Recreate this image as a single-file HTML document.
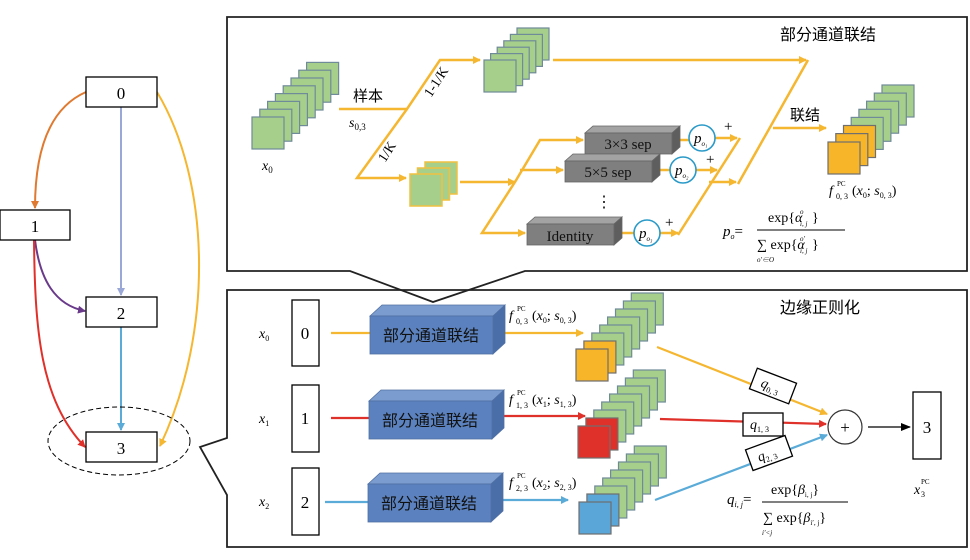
<!DOCTYPE html>
<html><head><meta charset="utf-8"><style>
html,body{margin:0;padding:0;background:#fff;}
svg{display:block;font-family:"Liberation Serif","Noto Serif CJK SC",serif;}
.cj{font-family:"Liberation Serif","Noto Sans CJK SC",sans-serif;}
</style></head><body>
<svg width="970" height="560" viewBox="0 0 970 560" xmlns="http://www.w3.org/2000/svg">
<defs>
<rect id="g" width="32" height="32" fill="#a6cf8c" stroke="#6f8a98" stroke-width="1.2"/>
<rect id="gy" width="32" height="32" fill="#a6cf8c" stroke="#f0c040" stroke-width="1.5"/>
<rect id="o" width="32" height="32" fill="#f7b52a" stroke="#6f6f6f" stroke-width="1.2"/>
<rect id="r" width="32" height="32" fill="#e0302a" stroke="#6f6f6f" stroke-width="1.2"/>
<rect id="b" width="32" height="32" fill="#5aa6d8" stroke="#6f6f6f" stroke-width="1.2"/>
<marker id="ay" markerWidth="8" markerHeight="8" refX="7" refY="4" orient="auto" markerUnits="userSpaceOnUse"><path d="M0,0 L8,4 L0,8z" fill="#f5b630"/></marker>
<marker id="ar" markerWidth="8" markerHeight="8" refX="7" refY="4" orient="auto" markerUnits="userSpaceOnUse"><path d="M0,0 L8,4 L0,8z" fill="#e0302a"/></marker>
<marker id="ab" markerWidth="8" markerHeight="8" refX="7" refY="4" orient="auto" markerUnits="userSpaceOnUse"><path d="M0,0 L8,4 L0,8z" fill="#5aabd8"/></marker>
<marker id="ak" markerWidth="10" markerHeight="8" refX="9" refY="4" orient="auto" markerUnits="userSpaceOnUse"><path d="M0,0 L10,4 L0,8z" fill="#000"/></marker>
<marker id="mo" markerWidth="8" markerHeight="8" refX="7" refY="4" orient="auto" markerUnits="userSpaceOnUse"><path d="M0,0 L8,4 L0,8z" fill="#e07a30"/></marker>
<marker id="ml" markerWidth="8" markerHeight="8" refX="7" refY="4" orient="auto" markerUnits="userSpaceOnUse"><path d="M0,0 L8,4 L0,8z" fill="#9aa8d8"/></marker>
<marker id="mp" markerWidth="8" markerHeight="8" refX="7" refY="4" orient="auto" markerUnits="userSpaceOnUse"><path d="M0,0 L8,4 L0,8z" fill="#6a3a8a"/></marker>
</defs>

<!-- LEFT GRAPH -->
<g fill="none" stroke-width="2">
<path d="M86,92 C45,110 35,160 35,208" stroke="#e07a30" marker-end="url(#mo)"/>
<path d="M121,107 L121,295" stroke="#9aa8d8" marker-end="url(#ml)"/>
<path d="M157,92 C210,180 215,330 160,446" stroke="#f5b630" marker-end="url(#ay)"/>
<path d="M35,240 C40,280 55,305 85,311" stroke="#6a3a8a" marker-end="url(#mp)"/>
<path d="M121,327 L121,430" stroke="#5aabd8" marker-end="url(#ab)"/>
<path d="M34,240 C35,330 40,400 85,447" stroke="#e0302a" marker-end="url(#ar)"/>
</g>
<g fill="#fff" stroke="#000" stroke-width="1.3">
<rect x="86" y="77" width="71" height="30"/>
<rect x="0" y="210" width="70" height="30"/>
<rect x="86" y="297" width="71" height="30"/>
<rect x="86" y="432" width="71" height="30"/>
</g>
<g font-size="17" text-anchor="middle">
<text x="121" y="99">0</text><text x="35" y="232">1</text><text x="121" y="319">2</text><text x="121" y="454">3</text>
</g>
<ellipse cx="119" cy="441" rx="71" ry="34" fill="none" stroke="#000" stroke-width="1" stroke-dasharray="5,3"/>

<!-- PANELS -->
<path d="M227,17 L967,17 L967,271 L525,271 L433,302 L350,271 L227,271 Z" fill="none" stroke="#222" stroke-width="1.8"/>
<path d="M227,290 L967,290 L967,547 L227,547 L227,495 L200,447 L227,438 Z" fill="none" stroke="#222" stroke-width="1.8"/>

<!-- TOP PANEL -->
<text x="780" y="40" font-size="16" class="cj">部分通道联结</text>
<g>
<use href="#g" x="306.6" y="62.4"/><use href="#g" x="298.8" y="70.2"/><use href="#g" x="291" y="78"/><use href="#g" x="283.2" y="85.8"/><use href="#g" x="275.4" y="93.6"/><use href="#g" x="267.6" y="101.4"/><use href="#g" x="259.8" y="109.2"/><use href="#g" x="252" y="117"/>
</g>
<text x="262" y="170" font-size="14" font-style="italic">x<tspan font-size="9" font-style="normal" dy="3">0</tspan></text>
<g fill="none" stroke="#f5b630" stroke-width="2.5">
<path d="M339,109 L407,109 L440,60 L480,60" marker-end="url(#ay)"/>
<path d="M407,109 L357,178 L406,178" marker-end="url(#ay)"/>
<path d="M460,182 L515,182" marker-end="url(#ay)"/>
<path d="M515,182 L540,140 L583,140" marker-end="url(#ay)"/>
<path d="M520,170 L563,170" marker-end="url(#ay)"/>
<path d="M515,182 L482,233 L525,233" marker-end="url(#ay)"/>
<path d="M678,140 L689,140"/><path d="M715,138 L737,138" marker-end="url(#ay)"/>
<path d="M658,170 L670,170"/><path d="M696,170 L717,170" marker-end="url(#ay)"/>
<path d="M620,233 L634,233"/><path d="M660,233 L678,233" marker-end="url(#ay)"/>
<path d="M678,235 L740,138"/>
<path d="M709,182 L736,182" marker-end="url(#ay)"/>
<path d="M738,184 L808,60"/>
<path d="M553,60 L806,60" marker-end="url(#ay)"/>
<path d="M773,128 L826,128" marker-end="url(#ay)"/>
</g>
<text x="353" y="101" font-size="15" class="cj">样本</text>
<text x="349" y="127" font-size="14" font-style="italic">s<tspan font-size="9" font-style="normal" dy="3">0,3</tspan></text>
<text x="0" y="0" font-size="14" transform="translate(431,98) rotate(-57)">1-1/K</text>
<text x="0" y="0" font-size="14" transform="translate(385,163) rotate(-57)">1/K</text>
<g>
<use href="#g" x="517" y="28"/><use href="#g" x="510.4" y="34.4"/><use href="#g" x="503.8" y="40.8"/><use href="#g" x="497.2" y="47.2"/><use href="#g" x="490.6" y="53.6"/><use href="#g" x="484" y="60"/>
</g>
<g><use href="#gy" x="425" y="162"/><use href="#gy" x="417.5" y="168"/><use href="#gy" x="410" y="174"/></g>
<g stroke="#666" stroke-width="0.8">
<path d="M585,133 L593,126 L680,126 L672,133Z" fill="#a3a3a3"/><path d="M672,133 L680,126 L680,147 L672,154Z" fill="#5e5e5e"/><rect x="585" y="133" width="87" height="21" fill="#7f7f7f"/>
<path d="M565,161 L573,154 L660,154 L652,161Z" fill="#a3a3a3"/><path d="M652,161 L660,154 L660,175 L652,182Z" fill="#5e5e5e"/><rect x="565" y="161" width="87" height="21" fill="#7f7f7f"/>
<path d="M527,224 L535,217 L622,217 L614,224Z" fill="#a3a3a3"/><path d="M614,224 L622,217 L622,238 L614,245Z" fill="#5e5e5e"/><rect x="527" y="224" width="87" height="21" fill="#7f7f7f"/>
</g>
<g font-size="15" text-anchor="middle" fill="#111">
<text x="628" y="149">3×3 sep</text><text x="608" y="177">5×5 sep</text><text x="570" y="241">Identity</text>
<text x="604" y="207" font-size="16">⋮</text>
</g>
<g fill="#fff" stroke="#2a9ac8" stroke-width="1.6">
<circle cx="702" cy="138" r="13"/><circle cx="683" cy="170" r="13"/><circle cx="647" cy="233" r="13"/>
</g>
<g font-size="15" font-style="italic">
<text x="694" y="143">p<tspan font-size="7" dy="3">o₁</tspan></text>
<text x="675" y="175">p<tspan font-size="7" dy="3">o₂</tspan></text>
<text x="639" y="238">p<tspan font-size="7" dy="3">o₃</tspan></text>
</g>
<g font-size="15"><text x="724" y="131">+</text><text x="706" y="164">+</text><text x="665" y="227">+</text></g>
<text x="790" y="120" font-size="15" class="cj">联结</text>
<g>
<use href="#g" x="882" y="85"/><use href="#g" x="874.3" y="93.1"/><use href="#g" x="866.6" y="101.2"/><use href="#g" x="858.9" y="109.3"/><use href="#g" x="851.2" y="117.4"/><use href="#o" x="843.5" y="125.5"/><use href="#o" x="835.8" y="133.6"/><use href="#o" x="828" y="142"/>
</g>
<!-- f label top -->
<g font-size="14">
<text x="829" y="195" font-style="italic">f</text><text x="836" y="199" font-size="8">0, 3</text><text x="837" y="186" font-size="7">PC</text>
<text x="852" y="195">(<tspan font-style="italic">x</tspan><tspan font-size="8" dy="3">0</tspan><tspan dy="-3">; </tspan><tspan font-style="italic">s</tspan><tspan font-size="8" dy="3">0, 3</tspan><tspan dy="-3">)</tspan></text>
</g>
<!-- p_o formula -->
<text x="723" y="236" font-size="15" font-style="italic">p<tspan font-size="8" dy="3">o</tspan><tspan font-style="normal" dy="-3">=</tspan></text>
<line x1="757" y1="230" x2="845" y2="230" stroke="#000" stroke-width="1"/>
<text x="768" y="222" font-size="14">exp{<tspan font-style="italic">α</tspan></text><text x="800" y="214" font-size="7" font-style="italic">o</text><text x="800" y="226" font-size="7" font-style="italic">i, j</text><text x="812" y="222" font-size="14">}</text>
<text x="757" y="249" font-size="14">∑ exp{<tspan font-style="italic">α</tspan></text><text x="800" y="241" font-size="7" font-style="italic">o′</text><text x="800" y="253" font-size="7" font-style="italic">i, j</text><text x="812" y="249" font-size="14">}</text>
<text x="757" y="262" font-size="7" font-style="italic">o′∈O</text>

<!-- BOTTOM PANEL -->
<text x="780" y="313" font-size="16" class="cj">边缘正则化</text>
<g font-size="14" font-style="italic">
<text x="259" y="338">x<tspan font-size="8" font-style="normal" dy="3">0</tspan></text>
<text x="259" y="423">x<tspan font-size="8" font-style="normal" dy="3">1</tspan></text>
<text x="259" y="506">x<tspan font-size="8" font-style="normal" dy="3">2</tspan></text>
</g>
<g fill="#fff" stroke="#000" stroke-width="1.3">
<rect x="292" y="300" width="27" height="66"/><rect x="292" y="385" width="27" height="67"/><rect x="292" y="468" width="27" height="67"/>
</g>
<g font-size="17" text-anchor="middle"><text x="305" y="339">0</text><text x="305" y="424">1</text><text x="305" y="508">2</text></g>
<g fill="none" stroke-width="2.2">
<path d="M331,333 L370,333" stroke="#f5b630"/><path d="M495,333 L583,333" stroke="#f5b630" marker-end="url(#ay)"/>
<path d="M331,418 L370,418" stroke="#e0302a"/><path d="M495,416 L585,416" stroke="#e0302a" marker-end="url(#ar)"/>
<path d="M325,502 L370,502" stroke="#5aabd8"/><path d="M494,500 L568,500" stroke="#5aabd8" marker-end="url(#ab)"/>
</g>
<g stroke="#5170a4" stroke-width="0.8">
<path d="M370,316 L382,305 L505,305 L493,316Z" fill="#7b9cce"/><path d="M493,316 L505,305 L505,343 L493,354Z" fill="#4a6ea8"/><rect x="370" y="316" width="123" height="38" fill="#5b82be"/>
<path d="M369,401 L381,390 L504,390 L492,401Z" fill="#7b9cce"/><path d="M492,401 L504,390 L504,428 L492,439Z" fill="#4a6ea8"/><rect x="369" y="401" width="123" height="38" fill="#5b82be"/>
<path d="M368,484 L380,473 L503,473 L491,484Z" fill="#7b9cce"/><path d="M491,484 L503,473 L503,511 L491,522Z" fill="#4a6ea8"/><rect x="368" y="484" width="123" height="38" fill="#5b82be"/>
</g>
<g font-size="16" class="cj" fill="#111" text-anchor="middle">
<text x="431" y="341">部分通道联结</text><text x="430" y="426">部分通道联结</text><text x="429" y="509">部分通道联结</text>
</g>
<g font-size="14">
<text x="509" y="320" font-style="italic">f</text><text x="516" y="324" font-size="8">0, 3</text><text x="517" y="311" font-size="7">PC</text>
<text x="532" y="320">(<tspan font-style="italic">x</tspan><tspan font-size="8" dy="3">0</tspan><tspan dy="-3">; </tspan><tspan font-style="italic">s</tspan><tspan font-size="8" dy="3">0, 3</tspan><tspan dy="-3">)</tspan></text>
<text x="509" y="404" font-style="italic">f</text><text x="516" y="408" font-size="8">1, 3</text><text x="517" y="395" font-size="7">PC</text>
<text x="532" y="404">(<tspan font-style="italic">x</tspan><tspan font-size="8" dy="3">1</tspan><tspan dy="-3">; </tspan><tspan font-style="italic">s</tspan><tspan font-size="8" dy="3">1, 3</tspan><tspan dy="-3">)</tspan></text>
<text x="509" y="487" font-style="italic">f</text><text x="516" y="491" font-size="8">2, 3</text><text x="517" y="478" font-size="7">PC</text>
<text x="532" y="487">(<tspan font-style="italic">x</tspan><tspan font-size="8" dy="3">2</tspan><tspan dy="-3">; </tspan><tspan font-style="italic">s</tspan><tspan font-size="8" dy="3">2, 3</tspan><tspan dy="-3">)</tspan></text>
</g>
<g>
<use href="#g" x="631.3" y="293"/><use href="#g" x="623.4" y="301"/><use href="#g" x="615.5" y="309"/><use href="#g" x="607.6" y="317"/><use href="#g" x="599.7" y="325"/><use href="#g" x="591.8" y="333"/><use href="#o" x="583.9" y="341"/><use href="#o" x="576" y="349"/>
<use href="#g" x="633.3" y="370"/><use href="#g" x="625.4" y="378"/><use href="#g" x="617.5" y="386"/><use href="#g" x="609.6" y="394"/><use href="#g" x="601.7" y="402"/><use href="#g" x="593.8" y="410"/><use href="#r" x="585.9" y="418"/><use href="#r" x="578" y="426"/>
<use href="#g" x="634.3" y="446"/><use href="#g" x="626.4" y="454"/><use href="#g" x="618.5" y="462"/><use href="#g" x="610.6" y="470"/><use href="#g" x="602.7" y="478"/><use href="#g" x="594.8" y="486"/><use href="#b" x="586.9" y="494"/><use href="#b" x="579" y="502"/>
</g>
<g fill="none" stroke-width="2.2">
<path d="M657,347 L827,414" stroke="#f5b630" marker-end="url(#ay)"/>
<path d="M660,419 L826,424" stroke="#e0302a" marker-end="url(#ar)"/>
<path d="M655,500 L827,435" stroke="#5aabd8" marker-end="url(#ab)"/>
</g>
<circle cx="845" cy="427" r="17" fill="#fff" stroke="#333" stroke-width="1.2"/>
<text x="845" y="433" font-size="17" text-anchor="middle">+</text>
<path d="M868,427 L910,427" stroke="#000" stroke-width="1.2" marker-end="url(#ak)"/>
<rect x="913" y="392" width="28" height="67" fill="#fff" stroke="#000" stroke-width="1.3"/>
<text x="927" y="433" font-size="17" text-anchor="middle">3</text>
<text x="914" y="494" font-size="14" font-style="italic">x</text><text x="921" y="497" font-size="8">3</text><text x="921" y="484" font-size="7">PC</text>
<g transform="translate(773,386) rotate(21)"><rect x="-21" y="-11" width="42" height="22" fill="#fff" stroke="#000" stroke-width="1.3"/><text x="-12" y="5" font-size="14" font-style="italic">q<tspan font-size="8" font-style="normal" dy="3">0, 3</tspan></text></g>
<g><rect x="743" y="413" width="40" height="23" fill="#fff" stroke="#000" stroke-width="1.3"/><text x="750" y="429" font-size="14" font-style="italic">q<tspan font-size="8" font-style="normal" dy="3">1, 3</tspan></text></g>
<g transform="translate(769,453) rotate(-20)"><rect x="-21" y="-11" width="42" height="22" fill="#fff" stroke="#000" stroke-width="1.3"/><text x="-12" y="5" font-size="14" font-style="italic">q<tspan font-size="8" font-style="normal" dy="3">2, 3</tspan></text></g>
<text x="727" y="504" font-size="15" font-style="italic">q<tspan font-size="8" dy="3">i, j</tspan><tspan font-style="normal" dy="-3">=</tspan></text>
<line x1="762" y1="502" x2="848" y2="502" stroke="#000" stroke-width="1"/>
<text x="771" y="494" font-size="14">exp{<tspan font-style="italic">β</tspan><tspan font-size="7" dy="3">i, j</tspan><tspan dy="-3">}</tspan></text>
<text x="763" y="522" font-size="14">∑ exp{<tspan font-style="italic">β</tspan><tspan font-size="7" dy="3">i′, j</tspan><tspan dy="-3">}</tspan></text>
<text x="762" y="535" font-size="7" font-style="italic">i′&lt;j</text>
</svg>
</body></html>
